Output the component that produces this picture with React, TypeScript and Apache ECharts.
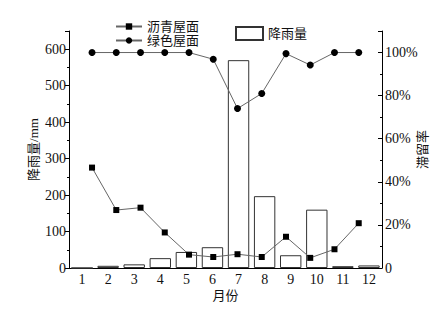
import React, { useEffect, useRef } from "react";
import * as echarts from "echarts";

const months = ["1", "2", "3", "4", "5", "6", "7", "8", "9", "10", "11", "12"];
const monthNums = [1, 2, 3, 4, 5, 6, 7, 8, 9, 10, 11, 12];
const rainfall = [0, 6, 10, 27, 44, 57, 570, 197, 35, 160, 5, 7];
const asphaltRetention = [46.6, 26.9, 28, 16.5, 6.2, 5.1, 6.4, 5.1, 14.5, 4.7, 8.7, 20.8];
const greenRetention = [100, 100, 100, 100, 100, 96.9, 74, 81, 99.5, 94.2, 100, 100];

const FONT = "'Liberation Serif', 'Noto Sans CJK SC', serif";

export default function App() {
  const ref = useRef<HTMLDivElement>(null);
  useEffect(() => {
    if (!ref.current) return;
    const chart = echarts.init(ref.current, undefined, { renderer: "svg" });
    chart.setOption({
      animation: false,
      backgroundColor: "#fff",
      textStyle: { fontFamily: FONT, color: "#111" },
      grid: { left: 69, right: 61, top: 31, bottom: 42, containLabel: false },
      legend: [
        {
          data: ["沥青屋面", "绿色屋面"],
          orient: "vertical",
          left: 110,
          top: 15,
          itemWidth: 26,
          itemHeight: 8,
          itemGap: 1,
          textStyle: { fontFamily: FONT, fontSize: 13, color: "#111" },
        },
        {
          data: [{ name: "降雨量", icon: "rect" }],
          left: 230,
          top: 21,
          itemWidth: 27,
          itemHeight: 13,
          textStyle: { fontFamily: FONT, fontSize: 13, color: "#111" },
        },
      ],
      xAxis: [
        {
          type: "category",
          data: months,
          boundaryGap: true,
          name: "月份",
          nameLocation: "middle",
          nameGap: 21,
          nameMoveOverlap: false,
          nameTextStyle: { fontFamily: FONT, fontSize: 13, color: "#111" },
          axisLine: { lineStyle: { color: "#000", width: 1 } },
          axisTick: { show: false },
          axisLabel: { fontFamily: FONT, fontSize: 14, color: "#111", margin: 4 },
          splitLine: { show: false },
        },
        {
          type: "value",
          min: 0.05,
          max: 12.96,
          show: false,
          splitLine: { show: false },
        },
      ],
      yAxis: [
        {
          type: "value",
          min: 0,
          max: 650,
          interval: 100,
          name: "降雨量/mm",
          nameLocation: "middle",
          nameGap: 29,
          nameMoveOverlap: false,
          nameRotate: 90,
          nameTextStyle: { fontFamily: FONT, fontSize: 13, color: "#111" },
          axisLine: { show: true, lineStyle: { color: "#000", width: 1 } },
          axisTick: { show: true, length: 4, inside: false, lineStyle: { color: "#000" } },
          minorTick: { show: true, splitNumber: 2, length: 2, lineStyle: { color: "#000" } },
          axisLabel: { fontFamily: FONT, fontSize: 14, color: "#111", margin: 3, showMaxLabel: false },
          splitLine: { show: false },
        },
        {
          type: "value",
          min: 0,
          max: 110,
          interval: 20,
          name: "滞留率",
          nameLocation: "middle",
          nameGap: 34,
          nameMoveOverlap: false,
          nameRotate: 90,
          nameTextStyle: { fontFamily: FONT, fontSize: 13, color: "#111" },
          axisLine: { show: true, lineStyle: { color: "#000", width: 1 } },
          axisTick: { show: true, length: 4, inside: true, lineStyle: { color: "#000" } },
          minorTick: { show: true, splitNumber: 2, length: 2, lineStyle: { color: "#000" } },
          axisLabel: {
            fontFamily: FONT,
            fontSize: 14,
            color: "#111",
            margin: 3,
            showMaxLabel: false,
            formatter: (v: number) => (v === 0 ? "0" : v % 20 === 0 ? v + "%" : ""),
          },
          splitLine: { show: false },
        },
      ],
      series: [
        {
          name: "降雨量",
          type: "bar",
          xAxisIndex: 0,
          yAxisIndex: 0,
          data: rainfall,
          barCategoryGap: "18%",
          itemStyle: { color: "#fff", borderColor: "#333", borderWidth: 1 },
          z: 1,
        },
        {
          name: "沥青屋面",
          type: "line",
          xAxisIndex: 1,
          yAxisIndex: 1,
          data: monthNums.map((m, i) => [m, asphaltRetention[i]]),
          symbol: "rect",
          symbolSize: 6,
          lineStyle: { color: "#666", width: 1 },
          itemStyle: { color: "#000" },
          z: 3,
        },
        {
          name: "绿色屋面",
          type: "line",
          xAxisIndex: 1,
          yAxisIndex: 1,
          data: monthNums.map((m, i) => [m, greenRetention[i]]),
          symbol: "circle",
          symbolSize: 7,
          lineStyle: { color: "#666", width: 1 },
          itemStyle: { color: "#000" },
          z: 3,
        },
      ],
    });
    return () => chart.dispose();
  }, []);
  return <div ref={ref} style={{ width: 443, height: 310, margin: -8 }} />;
}
